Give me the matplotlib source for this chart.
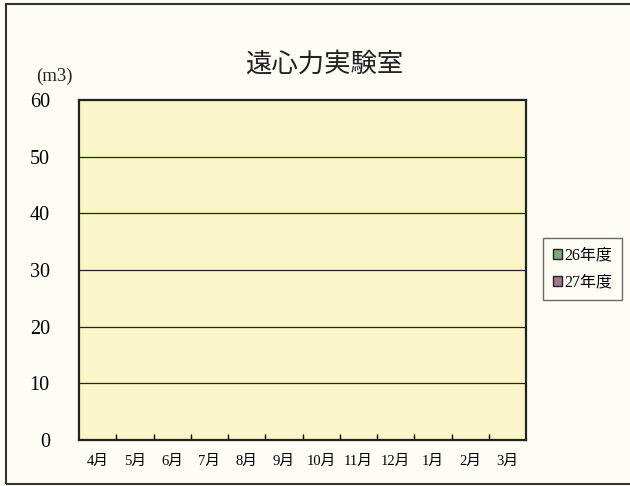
import matplotlib.pyplot as plt
from matplotlib.patches import Rectangle, Patch
import numpy as np

# Data (chart is empty: no values recorded)
months = ['4月', '5月', '6月', '7月', '8月', '9月', '10月', '11月', '12月', '1月', '2月', '3月']
series_names = ['26年度', '27年度']
series_values = [[], []]
series_colors = ['#7fa878', '#a07888']
y_ticks = [0, 10, 20, 30, 40, 50, 60]

plt.rcParams['font.family'] = ['Liberation Serif', 'Noto Sans CJK JP']

fig = plt.figure(figsize=(6.3, 4.86), dpi=100)
fig.patch.set_facecolor('#fdfdf6')

# outer frame (right side runs past the picture edge)
fig.patches.append(Rectangle((6 / 630, 2 / 486), 700 / 630, 480 / 486,
                             transform=fig.transFigure, fill=False,
                             edgecolor='#333333', linewidth=1.5))

ax = fig.add_axes([79 / 630, 1 - 440 / 486, 447 / 630, 340 / 486])
ax.set_facecolor('#fbf6c8')

x = np.arange(len(months))
for name, vals, col in zip(series_names, series_values, series_colors):
    ax.bar(x[:len(vals)], vals, color=col, label=name)

ax.set_xlim(-0.5, len(months) - 0.5)
ax.set_ylim(0, 60)
ax.set_yticks(y_ticks)
ax.set_yticklabels([str(v) for v in y_ticks], fontsize=14.5, family='Liberation Serif')
ax.tick_params(axis='y', length=0, pad=21)

ax.set_xticks(x)
ax.set_xticklabels(months, fontsize=10.5, family=['Liberation Serif', 'Noto Sans CJK JP'])
ax.tick_params(axis='x', length=0, pad=11)
ax.set_xticks(np.arange(0.5, len(months) - 0.5), minor=True)
ax.tick_params(axis='x', which='minor', direction='in', length=4, width=1)

for v in y_ticks[1:-1]:
    ax.axhline(v, color='#222222', linewidth=0.9)
for s in ax.spines.values():
    s.set_color('#222222')
    s.set_linewidth(1.6)

fig.text(324 / 630, 1 - 64 / 486, '遠心力実験室', ha='center', va='center',
         fontsize=19, family='Noto Sans CJK JP', color='#222222')
fig.text(36 / 630, 1 - 76 / 486, '(m3)', ha='left', va='center',
         fontsize=13.5, family='Liberation Serif', color='#222222')

handles = [Patch(facecolor=c, edgecolor='#222222', label=n)
           for n, c in zip(series_names, series_colors)]
leg = fig.legend(handles=handles, loc='center left',
                 bbox_to_anchor=(543 / 630, 1 - 269 / 486),
                 prop={'family': ['Liberation Serif', 'Noto Sans CJK JP'], 'size': 11.5},
                 frameon=True, fancybox=False, handlelength=0.6, handleheight=0.6,
                 handletextpad=0.15, borderpad=0.6, labelspacing=0.7, borderaxespad=0)
leg.get_frame().set_edgecolor('#444444')
leg.get_frame().set_facecolor('#fdfdf6')
leg.get_frame().set_linewidth(1.0)

fig.savefig('out.png', dpi=100, facecolor=fig.get_facecolor())
